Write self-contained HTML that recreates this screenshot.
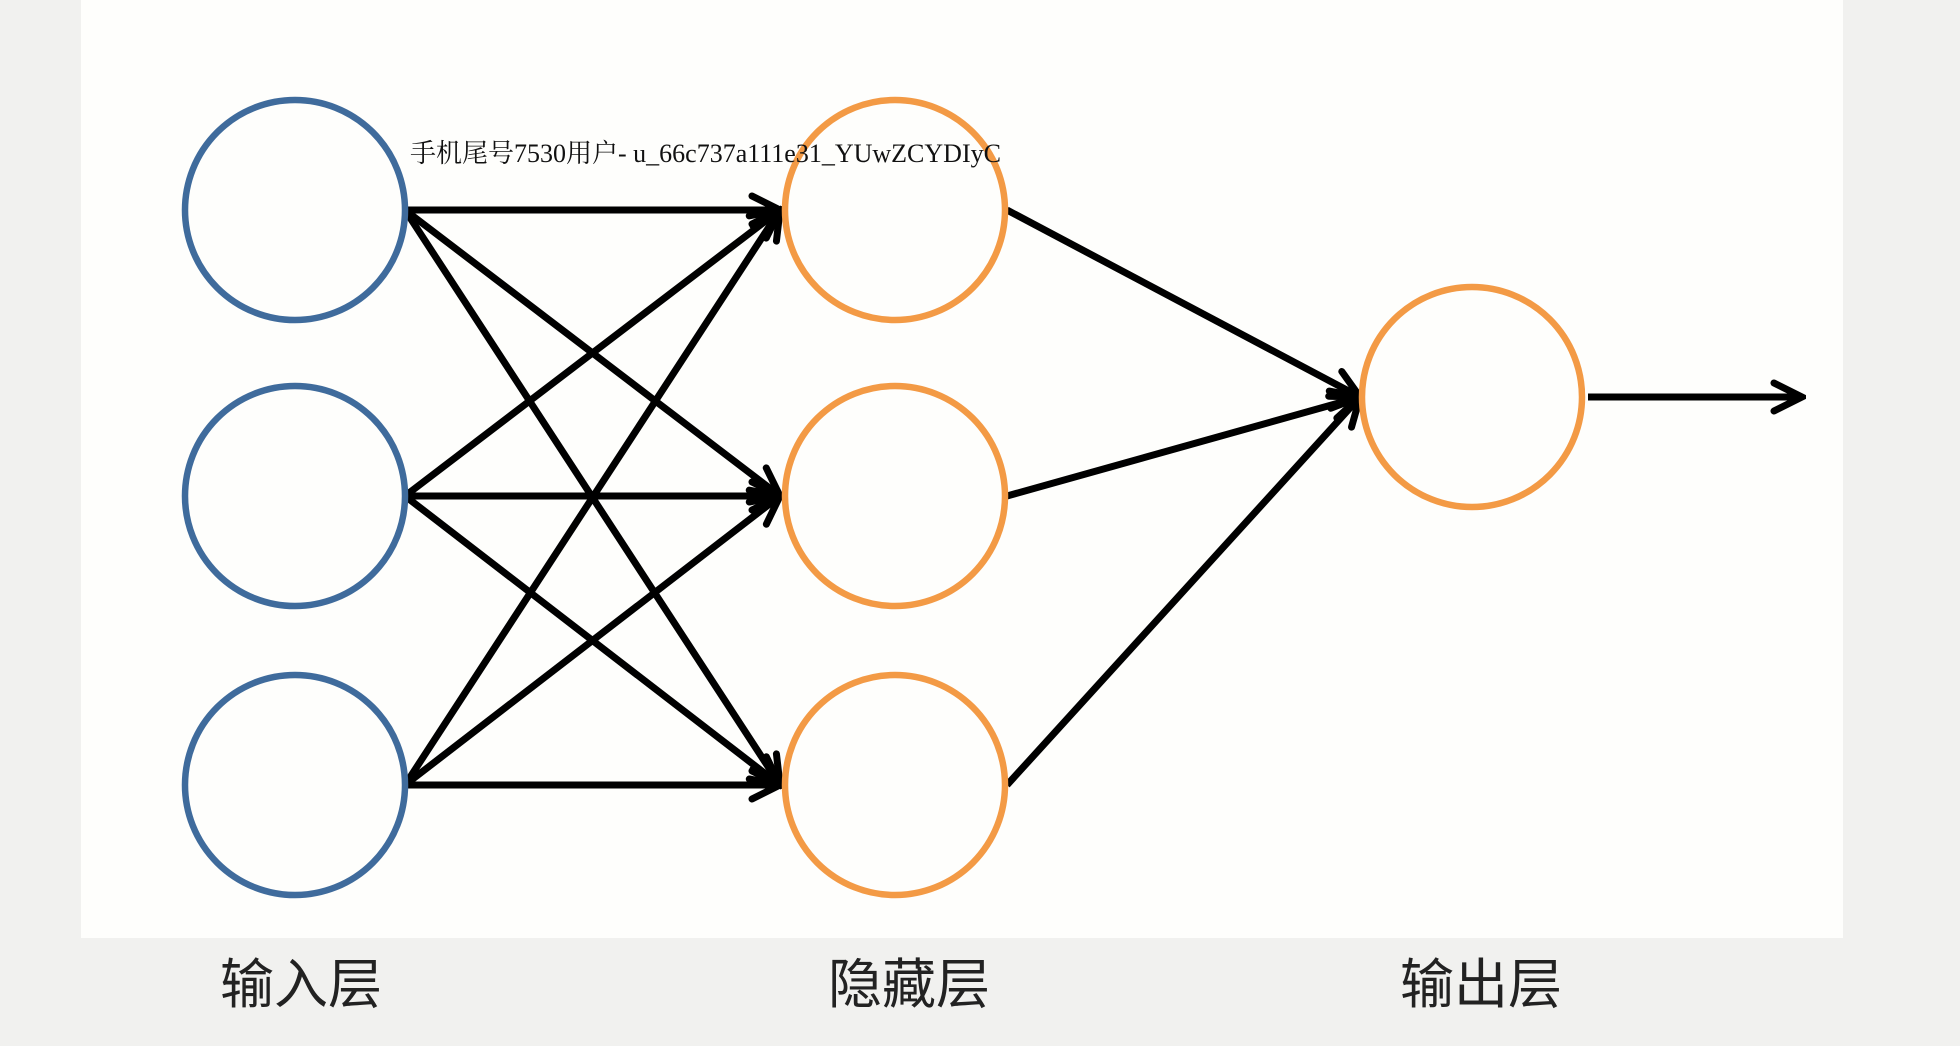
<!DOCTYPE html>
<html><head><meta charset="utf-8"><style>
body{margin:0;width:1960px;height:1046px;background:#f1f1ef;overflow:hidden;position:relative}
.lab{position:absolute;font-family:"Liberation Sans","Noto Sans CJK SC",sans-serif;font-size:54px;color:#222;top:940px}
</style></head><body>
<svg width="1960" height="1046" style="position:absolute;left:0;top:0">
<defs>
<marker id="b" markerWidth="40" markerHeight="40" refX="36" refY="20" orient="auto" markerUnits="userSpaceOnUse"><path d="M8,6 L36,20 L8,34" fill="none" stroke="#000" stroke-width="7" stroke-linecap="round"/></marker></defs>
<rect x="81" y="0" width="1762" height="938" fill="#fefefc"/>
<g stroke="#000" stroke-width="7" marker-end="url(#b)">
<line x1="405" y1="210" x2="780" y2="210"/><line x1="405" y1="210" x2="780" y2="496"/><line x1="405" y1="210" x2="780" y2="785"/>
<line x1="405" y1="496" x2="780" y2="210"/><line x1="405" y1="496" x2="780" y2="496"/><line x1="405" y1="496" x2="780" y2="785"/>
<line x1="405" y1="785" x2="780" y2="210"/><line x1="405" y1="785" x2="780" y2="496"/><line x1="405" y1="785" x2="780" y2="785"/>
<line x1="1007" y1="210" x2="1360" y2="397"/><line x1="1007" y1="496" x2="1360" y2="397"/><line x1="1007" y1="785" x2="1360" y2="397"/>
<line x1="1588" y1="397" x2="1802" y2="397"/>
</g>
<g fill="none" stroke-width="6.5">
<circle cx="295" cy="210" r="110" stroke="#3f6b9c"/><circle cx="295" cy="496" r="110" stroke="#3f6b9c"/><circle cx="295" cy="785" r="110" stroke="#3f6b9c"/>
<circle cx="895" cy="210" r="110" stroke="#f39a45"/><circle cx="895" cy="496" r="110" stroke="#f39a45"/><circle cx="895" cy="785" r="110" stroke="#f39a45"/>
<circle cx="1472" cy="397" r="110" stroke="#f39a45"/>
</g>
<text x="410" y="162" font-family="Liberation Serif, Noto Serif CJK SC, serif" font-size="26" fill="#111">手机尾号7530用户- u_66c737a111e31_YUwZCYDIyC</text>
</svg>
<div class="lab" style="left:220px">输入层</div>
<div class="lab" style="left:828px">隐藏层</div>
<div class="lab" style="left:1400px">输出层</div>
</body></html>
